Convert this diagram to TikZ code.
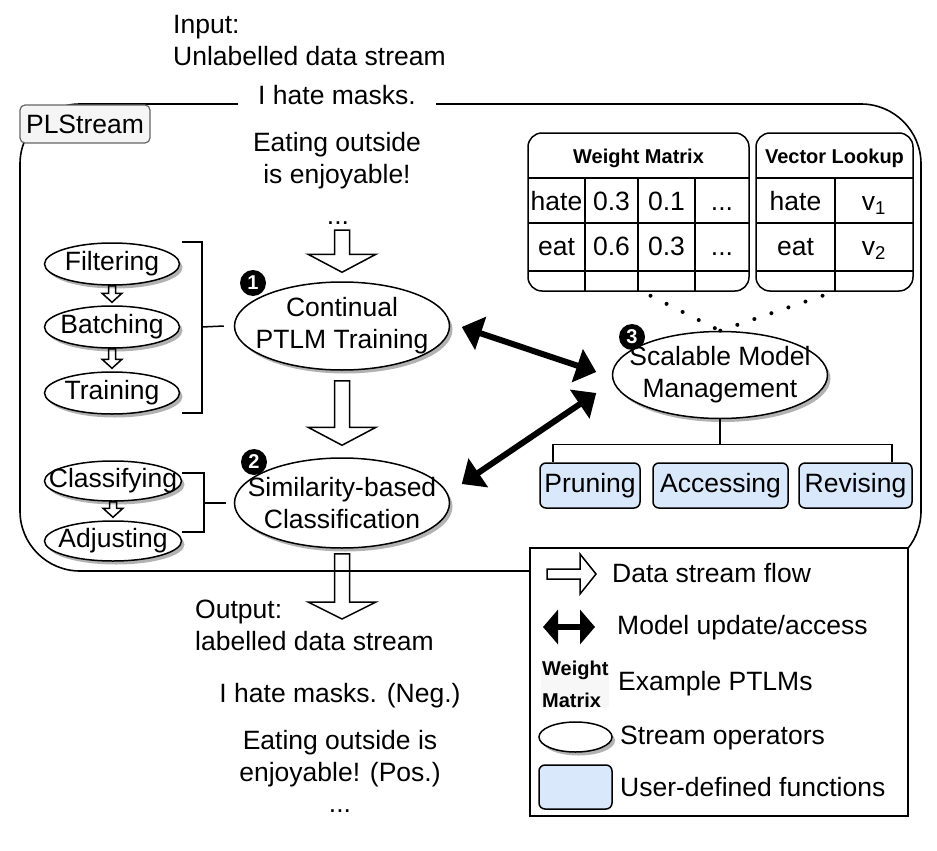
\documentclass[tikz,border=0pt]{standalone}
\usepackage{fontspec}
\setmainfont{Liberation Sans}
\usetikzlibrary{arrows.meta,shapes.geometric,shadows,calc}
\definecolor{udfblue}{HTML}{DAE8FC}
\definecolor{tagfill}{HTML}{F5F5F5}
\definecolor{tagline}{HTML}{666666}
% hollow data-stream arrow: shaft half width, head half width, head length, from, to
\newcommand{\flowdown}[5]{%
  \draw[flow] let \p1=#4, \p2=#5 in
    (\x2-#1pt,\y1) -- (\x2+#1pt,\y1) -- (\x2+#1pt,\y2+#3pt) -- (\x2+#2pt,\y2+#3pt)
    -- (\x2,\y2) -- (\x2-#2pt,\y2+#3pt) -- (\x2-#1pt,\y2+#3pt) -- cycle;}
\begin{document}
\begin{tikzpicture}[x=1pt, y=-1pt, font=\fontsize{26.5}{32}\selectfont,
  op/.style={ellipse, draw, fill=white, line width=1.5pt, inner sep=0pt,
    drop shadow={shadow xshift=3pt, shadow yshift=-3.5pt, fill=black!30, opacity=1},
    label={[align=center]center:{#1}}},
  flow/.style={draw, line width=1.5pt, line join=miter},
  dbl/.style={line width=6pt, {Triangle[length=20pt,width=34pt]}-{Triangle[length=20pt,width=34pt]}},
  dotline/.style={line width=4pt, line cap=round, dash pattern=on 0pt off 18pt},
  bracket/.style={line width=1.5pt},
  tbl/.style={draw, line width=1.5pt, rounded corners=14pt, inner sep=0pt},
  grid/.style={line width=1.5pt},
  hdr/.style={font=\bfseries\fontsize{20}{24}\selectfont},
  badge/.style={circle, fill=black, text=white, inner sep=0pt, minimum size=26pt,
    font=\bfseries\fontsize{20}{20}\selectfont},
  udf/.style={draw, fill=udfblue, line width=1.5pt, rounded corners=6pt, inner sep=0pt,
    minimum height=45pt},
  tag/.style={draw=tagline, fill=tagfill, line width=1.2pt, rounded corners=5pt,
    minimum width=130pt, minimum height=38pt, inner sep=0pt},
  lgtext/.style={anchor=west, inner sep=0pt}]
\useasboundingbox (0,0) rectangle (937,851);

% PLStream container
\draw[line width=1.6pt, rounded corners=60pt] (20,104) rectangle (921,571);
\node[align=left, anchor=west, inner sep=0pt] (input) at (173,41) {Input:\\Unlabelled data stream};
\node[fill=white, inner xsep=20pt, inner ysep=4pt] (hate) at (337,95) {I hate masks.};
\node[align=center] (eat) at (337,161) {Eating outside\\is enjoyable!};
\node[anchor=base, inner sep=0pt] (dots) at (338,224) {...};
\node[tag] (plstream) at (85,124) {PLStream};

% example PTLMs
\node[tbl, minimum width=221pt, minimum height=158pt] (wm) at (638.5,212) {};
\node[tbl, minimum width=157pt, minimum height=158pt] (vl) at (834.5,212) {};
\foreach \y in {178,223,271} {
  \draw[grid] (528,\y) -- (749,\y);
  \draw[grid] (756,\y) -- (913,\y);
}
\foreach \x in {585,638,695,835} \draw[grid] (\x,178) -- (\x,291);
\node[hdr, anchor=base] (wmhead) at (638.5,163) {Weight Matrix};
\node[hdr, anchor=base] (vlhead) at (834.5,163) {Vector Lookup};
\foreach \x/\a/\b in {556.5/hate/eat, 611.5/0.3/0.6, 666.5/0.1/0.3} {
  \node[anchor=base] (wa\x) at (\x,210.5) {\a};
  \node[anchor=base] (wb\x) at (\x,255.5) {\b};
}
\foreach \y in {210.5,255.5} \node[anchor=base] (wd\y) at (722,\y) {...};
\node[anchor=base] (vhate) at (795.5,210.5) {hate};
\node[anchor=base] (veat) at (795.5,255.5) {eat};
\node[anchor=base] (vone) at (874,210.5) {v\textsubscript{1}};
\node[anchor=base] (vtwo) at (874,255.5) {v\textsubscript{2}};

% stream operators
\node[op={Filtering}, minimum width=135pt, minimum height=42pt] (filt) at (112,264) {};
\node[op={Batching}, minimum width=135pt, minimum height=42pt] (batch) at (112,327) {};
\node[op={Training}, minimum width=135pt, minimum height=42pt] (train) at (112,393) {};
\node[op={Classifying}, minimum width=137pt, minimum height=40pt] (clas) at (113,481) {};
\node[op={Adjusting}, minimum width=137pt, minimum height=40pt] (adj) at (113,541) {};
\node[op={Continual\\PTLM Training}, minimum width=215pt, minimum height=88pt] (cpt) at (342,326) {};
\node[op={Similarity-based\\Classification}, minimum width=215pt, minimum height=90pt] (sim) at (342,503) {};
\node[op={Scalable Model\\Management}, minimum width=215pt, minimum height=87pt] (smm) at (720,375) {};
\node[badge] (one) at (253,283) {1};
\node[badge] (two) at (254,462) {2};
\node[badge] (three) at (632,337) {3};

\draw[dotline] ([shift={(12,4)}]wm.south) -- (smm.north);
\draw[dotline] ([shift={(-12,4)}]vl.south) -- (smm.north);

\draw[bracket] (182,242) -| (202,413) -- (182,413);
\draw[bracket] (202,327) -- ([xshift=-10pt]cpt.west);
\draw[bracket] (182,473) -| (204,532) -- (182,532);
\draw[bracket] (204,503) -- ([xshift=-8pt]sim.west);

\flowdown{3.5}{10}{9}{(filt.south)}{([yshift=3pt]batch.north)}
\flowdown{3.5}{10}{9}{(batch.south)}{([yshift=3pt]train.north)}
\flowdown{3.5}{10}{9}{(clas.south)}{([yshift=3pt]adj.north)}
\flowdown{7.5}{34}{18}{([yshift=-6pt]dots.base)}{([yshift=9pt]cpt.north)}
\flowdown{7.5}{34}{18}{([yshift=-10pt]cpt.south)}{([yshift=12pt]sim.north)}
\coordinate (outtip) at (342,619);
\flowdown{7.5}{34}{17}{([yshift=-5pt]sim.south)}{(outtip)}

\draw[dbl] ([shift={(11.5,1)}]cpt.east) -- ([shift={(-15.5,-3)}]smm.west);
\draw[dbl] ([shift={(11.5,-19)}]sim.east) -- ([shift={(-15.5,18)}]smm.west);

% user-defined functions
\node[udf, minimum width=100pt] (prun) at (590,485.5) {Pruning};
\node[udf, minimum width=135pt] (acc) at (720.5,485.5) {Accessing};
\node[udf, minimum width=113pt] (revi) at (855.5,485.5) {Revising};
\draw[bracket] (smm.south) -- ++(0,25) coordinate (bus);
\draw[bracket] ([xshift=-37pt]prun.north) |- (bus) -| ([xshift=36.5pt]revi.north);

% legend
\draw[line width=1.5pt, fill=white] (530,548) rectangle (908,816);
\draw[flow, fill=white] (547,569) -- (580,569) -- (580,554) -- (596,574) -- (580,594) -- (580,579) -- (547,579) -- cycle;
\node[lgtext] (lgflow) at (612,573) {Data stream flow};
\draw[dbl, {Triangle[length=15pt,width=34pt]}-{Triangle[length=15pt,width=34pt]}] (543,627) -- (595,627);
\node[lgtext] (lgdbl) at (617,628) {Model update/access};
\node[lgtext, align=left, fill=gray!6, inner sep=1pt, font=\bfseries\fontsize{20}{32}\selectfont] (lgwm) at (541,684) {Weight\\Matrix};
\node[lgtext] (lgptlm) at (618,684) {Example PTLMs};
\node[op={}, minimum width=73pt, minimum height=30pt] (lgop) at (575.5,737) {};
\node[lgtext] (lgoptext) at (620,738) {Stream operators};
\node[udf, minimum width=73pt, minimum height=44pt] (lgudf) at (575.5,787) {};
\node[lgtext] (lgudftext) at (620,787) {User-defined functions};

% output stream
\node[align=left, anchor=west, inner sep=0pt] (output) at (195,625) {Output:\\labelled data stream};
\node (neg) at (340,696) {I hate masks. (Neg.)};
\node[align=center] (pos) at (340,759) {Eating outside is\\enjoyable! (Pos.)};
\node[anchor=base, inner sep=0pt] (odots) at (340,812) {...};
\end{tikzpicture}
\end{document}
